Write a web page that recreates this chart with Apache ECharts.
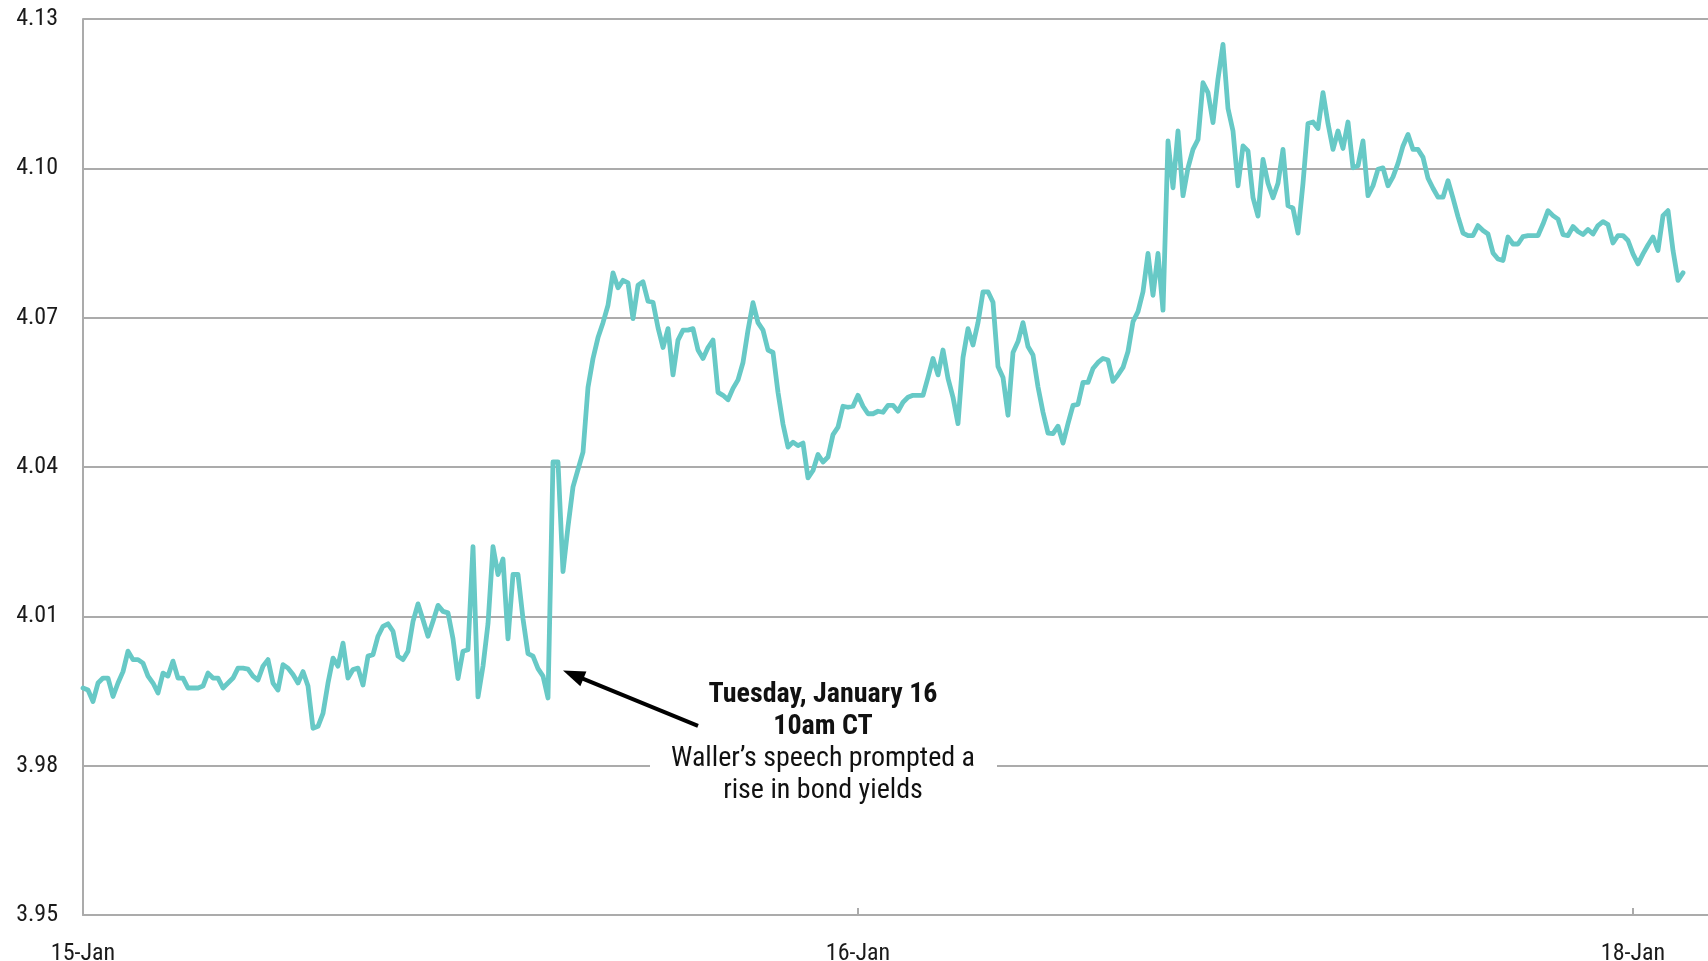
<!DOCTYPE html>
<html>
<head>
<meta charset="utf-8">
<script src="https://cdn.jsdelivr.net/npm/echarts@6/dist/echarts.min.js"></script>
<style>
html,body{margin:0;padding:0;background:#ffffff;}
#chart{width:1708px;height:961px;}
</style>
</head>
<body>
<div id="chart"></div>
<script>
// 10-year yield, intraday samples (equal time steps)
const yields = [
3.9956,3.9952,3.9929,3.9966,3.9976,3.9976,3.9939,3.9966,3.9989,4.0030,
4.0013,4.0013,4.0006,3.9980,3.9966,3.9946,3.9986,3.9980,4.0010,3.9976,
3.9976,3.9956,3.9956,3.9956,3.9960,3.9986,3.9976,3.9976,3.9956,3.9966,
3.9976,3.9996,3.9996,3.9994,3.9980,3.9972,4.0000,4.0013,3.9966,3.9952,
4.0003,3.9996,3.9983,3.9966,3.9989,3.9960,3.9875,3.9879,3.9905,3.9966,
4.0016,4.0000,4.0046,3.9976,3.9993,3.9996,3.9962,4.0020,4.0023,4.0060,
4.0080,4.0085,4.0070,4.0020,4.0013,4.0030,4.0090,4.0125,4.0093,4.0060,
4.0090,4.0122,4.0110,4.0107,4.0055,3.9975,4.0030,4.0033,4.0240,3.9938,
4.0000,4.0085,4.0240,4.0184,4.0215,4.0055,4.0184,4.0184,4.0095,4.0025,
4.0020,3.9995,3.9980,3.9936,4.0410,4.0410,4.0190,4.0280,4.0360,4.0395,
4.0430,4.0560,4.0618,4.0660,4.0690,4.0725,4.0790,4.0760,4.0775,4.0770,
4.0698,4.0765,4.0772,4.0733,4.0731,4.0680,4.0640,4.0678,4.0585,4.0655,
4.0675,4.0675,4.0678,4.0635,4.0618,4.0640,4.0655,4.0550,4.0544,4.0535,
4.0558,4.0575,4.0610,4.0675,4.0730,4.0690,4.0675,4.0635,4.0630,4.0550,
4.0486,4.0440,4.0450,4.0443,4.0448,4.0378,4.0393,4.0425,4.0410,4.0420,
4.0465,4.0480,4.0522,4.0520,4.0522,4.0544,4.0522,4.0507,4.0507,4.0512,
4.0510,4.0524,4.0524,4.0512,4.0530,4.0540,4.0544,4.0544,4.0544,4.0580,
4.0618,4.0585,4.0635,4.0578,4.0540,4.0487,4.0620,4.0678,4.0645,4.0690,
4.0752,4.0752,4.0731,4.0602,4.0580,4.0504,4.0630,4.0652,4.0690,4.0642,
4.0625,4.0561,4.0510,4.0468,4.0467,4.0482,4.0448,4.0487,4.0524,4.0526,
4.0570,4.0570,4.0598,4.0610,4.0618,4.0615,4.0572,4.0585,4.0600,4.0632,
4.0692,4.0712,4.0752,4.0829,4.0745,4.0829,4.0715,4.1055,4.0961,4.1075,
4.0945,4.1001,4.1038,4.1058,4.1172,4.1152,4.1092,4.1180,4.1249,4.1120,
4.1075,4.0965,4.1045,4.1035,4.0941,4.0904,4.1018,4.0970,4.0941,4.0970,
4.1038,4.0925,4.0920,4.0870,4.0970,4.1090,4.1093,4.1080,4.1152,4.1090,
4.1038,4.1075,4.1040,4.1093,4.1001,4.1005,4.1055,4.0945,4.0965,4.0998,
4.1001,4.0965,4.0983,4.1010,4.1045,4.1068,4.1038,4.1038,4.1022,4.0980,
4.0960,4.0942,4.0942,4.0975,4.0940,4.0903,4.0870,4.0865,4.0865,4.0885,
4.0875,4.0868,4.0830,4.0818,4.0815,4.0862,4.0848,4.0848,4.0863,4.0865,
4.0865,4.0865,4.0888,4.0915,4.0905,4.0898,4.0867,4.0865,4.0883,4.0873,
4.0867,4.0877,4.0868,4.0885,4.0893,4.0887,4.0850,4.0865,4.0865,4.0855,
4.0828,4.0808,4.0828,4.0846,4.0862,4.0835,4.0905,4.0915,4.0835,4.0775,
4.0790
];
const dayTickLabels = ['15-Jan', '16-Jan', '18-Jan'];
const slotsPerLabel = 155;     // samples between date ticks
const totalSlots = 326;        // axis length in samples
const yMin = 3.95, yMax = 4.13, yStep = 0.03;

const categories = Array.from({length: totalSlots}, (_, i) => 't' + i);
const isDayTick = (idx) => idx % slotsPerLabel === 0 && (idx / slotsPerLabel) < dayTickLabels.length;

const FONT = "'Liberation Sans Narrow', 'Arial Narrow', 'Roboto Condensed', 'DejaVu Sans Condensed', sans-serif";
const GRID_COLOR = '#ababab';

const chart = echarts.init(document.getElementById('chart'), null, {renderer: 'canvas'});
chart.setOption({
  animation: false,
  backgroundColor: '#ffffff',
  grid: {left: 83, right: 0, top: 19, bottom: 46, containLabel: false, outerBoundsMode: 'none'},
  xAxis: {
    type: 'category',
    data: categories,
    boundaryGap: false,
    axisLine: {show: true, lineStyle: {color: GRID_COLOR, width: 2}},
    axisTick: {show: true, inside: true, length: 7, interval: (idx) => isDayTick(idx),
               lineStyle: {color: GRID_COLOR, width: 2}},
    axisLabel: {
      interval: (idx) => isDayTick(idx),
      formatter: (v, idx) => isDayTick(idx) ? dayTickLabels[idx / slotsPerLabel] : '',
      color: '#1a1a1a', fontFamily: FONT, fontSize: 24, margin: 27
    },
    splitLine: {show: false}
  },
  yAxis: {
    type: 'value',
    min: yMin, max: yMax, interval: yStep,
    axisLine: {show: true, lineStyle: {color: GRID_COLOR, width: 2}},
    axisTick: {show: false},
    axisLabel: {formatter: (v) => v.toFixed(2), color: '#1a1a1a', fontFamily: FONT, fontSize: 24, margin: 25},
    splitLine: {show: true, lineStyle: {color: GRID_COLOR, width: 2}}
  },
  series: [{
    type: 'line',
    data: yields,
    showSymbol: false,
    symbol: 'none',
    smooth: false,
    lineStyle: {color: '#67c9c6', width: 4.8, join: 'round', cap: 'round'},
    z: 3
  }]
});

// Annotation anchored in data space
const arrowTip = chart.convertToPixel({gridIndex: 0}, [96, 3.9991]);
const arrowTail = chart.convertToPixel({gridIndex: 0}, [123, 3.9880]);
const noteAnchor = chart.convertToPixel({gridIndex: 0}, [148.4, 3.9941]);

const dx = arrowTip[0] - arrowTail[0], dy = arrowTip[1] - arrowTail[1];
const len = Math.sqrt(dx * dx + dy * dy);
const ux = dx / len, uy = dy / len;
const headLen = 22, headHalf = 8;
const bx = arrowTip[0] - ux * headLen, by = arrowTip[1] - uy * headLen;
const px = -uy * headHalf, py = ux * headHalf;

const cx = noteAnchor[0], firstLineMid = noteAnchor[1];
const lh = 31.7;

chart.setOption({
  graphic: [
    {type: 'rect', z: 100, shape: {x: cx - 173, y: firstLineMid - 20, width: 347, height: lh * 4 + 6},
     style: {fill: '#ffffff'}},
    {type: 'text', z: 101, x: cx, y: firstLineMid - lh / 2,
     style: {
       text: '{b|Tuesday, January 16}\n{b|10am CT}\n{n|Waller\u2019s speech prompted a}\n{n|rise in bond yields}',
       align: 'center', verticalAlign: 'top',
       rich: {
         b: {fontFamily: FONT, fontSize: 28, fontWeight: 'bold', lineHeight: lh, fill: '#111111', align: 'center'},
         n: {fontFamily: FONT, fontSize: 28, fontWeight: 'normal', lineHeight: lh, fill: '#111111', align: 'center'}
       }
     }},
    {type: 'line', z: 102, shape: {x1: arrowTail[0], y1: arrowTail[1], x2: bx + ux * 2, y2: by + uy * 2},
     style: {stroke: '#000000', lineWidth: 4}},
    {type: 'polygon', z: 102, shape: {points: [arrowTip, [bx + px, by + py], [bx - px, by - py]]},
     style: {fill: '#000000'}}
  ]
});
</script>
</body>
</html>
